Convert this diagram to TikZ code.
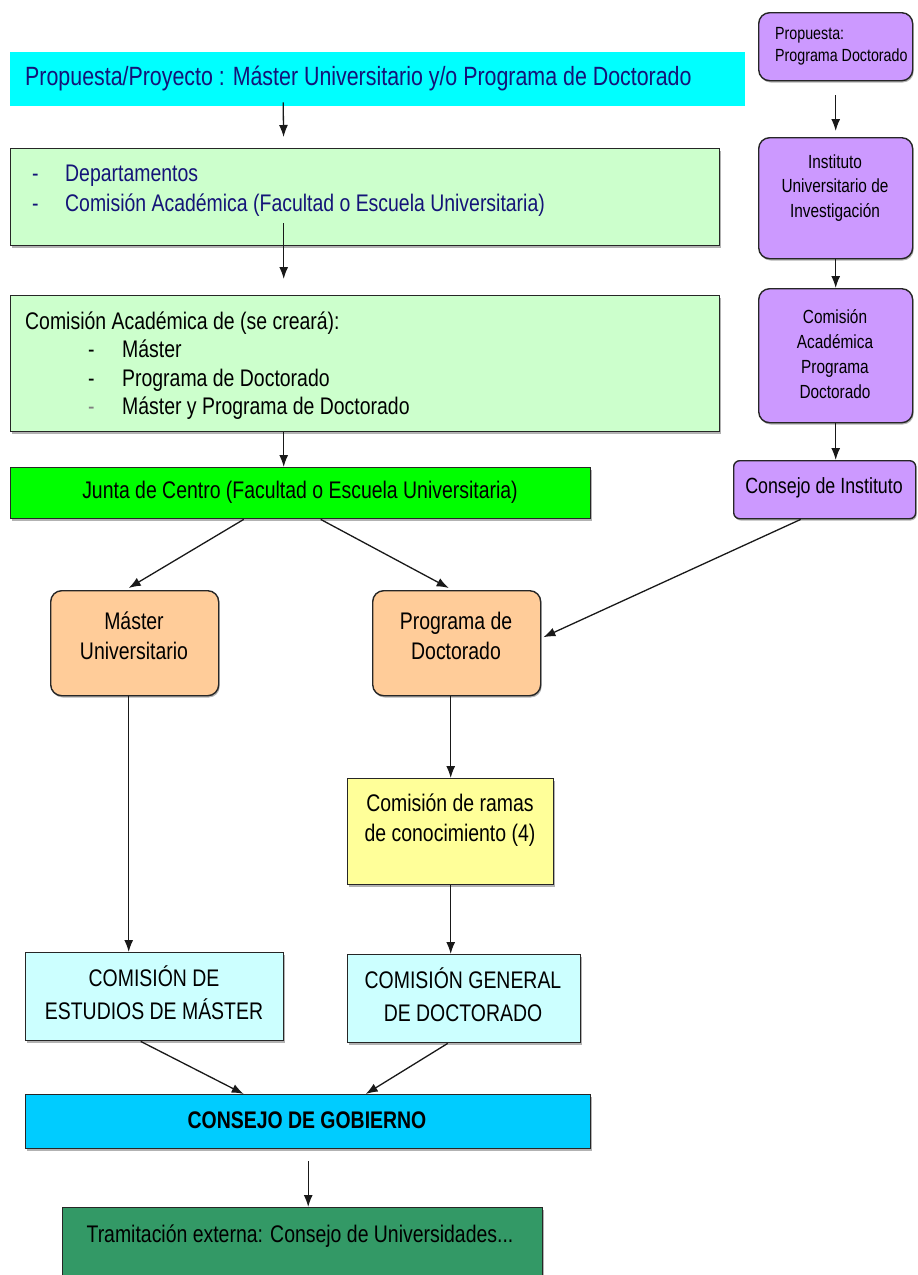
\documentclass[tikz,border=0pt]{standalone}
\usepackage{fontspec}
\setmainfont{Liberation Sans}[FakeStretch=0.81]
\usetikzlibrary{arrows.meta,shadows}
\definecolor{cCyan}{HTML}{00FFFF}
\definecolor{cLgreen}{HTML}{CCFFCC}
\definecolor{cGreen}{HTML}{00FF00}
\definecolor{cPurple}{HTML}{CC99FF}
\definecolor{cOrange}{HTML}{FFCC99}
\definecolor{cYellow}{HTML}{FFFF99}
\definecolor{cLcyan}{HTML}{CCFFFF}
\definecolor{cBlue}{HTML}{00CCFF}
\definecolor{cDgreen}{HTML}{339966}
\definecolor{cNavy}{HTML}{141478}
\newcommand\fA{\fontsize{24}{30}\selectfont}
\newcommand\fB{\fontsize{24}{28.5}\selectfont}
\newcommand\fC{\fontsize{24}{33}\selectfont}
\begin{document}
\begin{tikzpicture}[x=1pt,y=-1pt,
  box/.style={rectangle,draw=black!85,line width=1.4pt,anchor=north west,inner sep=0pt,
    drop shadow={shadow xshift=1pt,shadow yshift=-1.8pt,fill=black!60}},
  rbox/.style={box,rounded corners=11pt},
  txt/.style={inner sep=0pt,font=\fA,align=center},
  arr/.style={line width=1.3pt,draw=black!90,-{Latex[length=12pt,width=9pt]}}]
\useasboundingbox[fill=white] (0,0) rectangle (918,1275);

% left column
\node[anchor=north west,fill=cCyan,minimum width=735pt,minimum height=54pt,inner sep=0pt] (cyan) at (10,52) {};
\node[anchor=west,inner sep=0pt,text=cNavy,font=\fontsize{26.4}{30}\selectfont] (cyanT) at (25,79) {Propuesta/Proyecto : Máster Universitario y/o Programa de Doctorado};

\node[box,fill=cLgreen,minimum width=709pt,minimum height=97pt] (g1) at (10,148) {};
\node[anchor=north west,inner sep=0pt,text=cNavy,font=\fA] (g1T) at (32,160) {\begin{tabular}{@{}l@{}}\makebox[33pt][l]{-}Departamentos\\ \makebox[33pt][l]{-}Comisión Académica (Facultad o Escuela Universitaria)\end{tabular}};

\node[box,fill=cLgreen,minimum width=709pt,minimum height=136pt] (b3) at (10,295) {};
\node[anchor=north west,inner sep=0pt,font=\fB] (b3T) at (25,309) {\begin{tabular}{@{}l@{}}Comisión Académica de (se creará):\\ \hspace*{63pt}\makebox[34pt][l]{-}Máster\\ \hspace*{63pt}\makebox[34pt][l]{-}Programa de Doctorado\\ \hspace*{63pt}\makebox[34pt][l]{\color{black!50}-}Máster y Programa de Doctorado\end{tabular}};

\node[box,fill=cGreen,minimum width=580pt,minimum height=51pt] (junta) at (10,467) {};
\node[txt] (juntaT) at (300,492) {Junta de Centro (Facultad o Escuela Universitaria)};

% right column
\node[rbox,fill=cPurple,minimum width=154pt,minimum height=68pt] (p1) at (758,12) {};
\node[anchor=north west,inner sep=0pt,font=\fontsize{17.6}{22}\selectfont] (p1T) at (775,24) {\begin{tabular}{@{}l@{}}Propuesta:\\ Programa Doctorado\end{tabular}};

\node[rbox,fill=cPurple,minimum width=154pt,minimum height=121pt] (p2) at (758,137) {};
\node[txt,font=\fontsize{19}{24.5}\selectfont] (p2T) at (835,188) {Instituto\\Universitario de\\Investigación};

\node[rbox,fill=cPurple,minimum width=154pt,minimum height=134pt] (p3) at (758,288) {};
\node[txt,font=\fontsize{19}{25}\selectfont] (p3T) at (835,354) {Comisión\\Académica\\Programa\\Doctorado};

\node[box,rounded corners=6pt,fill=cPurple,minimum width=182pt,minimum height=58pt] (ci) at (733,460) {};
\node[txt,font=\fontsize{22}{26}\selectfont] (ciT) at (824,488) {Consejo de Instituto};

% middle
\node[rbox,fill=cOrange,minimum width=168pt,minimum height=105pt] (m) at (50,590) {};
\node[txt] (mT) at (134,636) {Máster\\Universitario};

\node[rbox,fill=cOrange,minimum width=168pt,minimum height=105pt] (pd) at (372,590) {};
\node[txt] (pdT) at (456,636) {Programa de\\Doctorado};

\node[box,fill=cYellow,minimum width=206pt,minimum height=106pt] (ra) at (347,778) {};
\node[txt] (raT) at (450,820) {Comisión de ramas\\de conocimiento (4)};

\node[box,fill=cLcyan,minimum width=258pt,minimum height=88pt] (ce) at (25,952) {};
\node[txt,font=\fC] (ceT) at (154,993) {COMISIÓN DE\\ESTUDIOS DE MÁSTER};

\node[box,fill=cLcyan,minimum width=233pt,minimum height=88pt] (cg) at (347,954) {};
\node[txt,font=\fC] (cgT) at (463,995) {COMISIÓN GENERAL\\DE DOCTORADO};

\node[box,fill=cBlue,minimum width=565pt,minimum height=54pt] (gob) at (25,1094) {};
\node[txt,font=\fA\bfseries] (gobT) at (307,1120) {CONSEJO DE GOBIERNO};

\node[box,fill=cDgreen,minimum width=480pt,minimum height=90pt] (tr) at (62,1207) {};
\node[txt] (trT) at (300,1236) {Tramitación externa: Consejo de Universidades...};

% connectors
\draw[arr,shorten >=11pt] ([xshift=-94.5pt,yshift=4pt]cyan.south) -- ([xshift=-81.5pt]g1.north);
\draw[arr,shorten >=16pt] ([xshift=-81.5pt,yshift=23pt]g1.south) -- ([xshift=-81.5pt]b3.north);
\draw[arr] ([xshift=-81.5pt]b3.south) -- ([xshift=-17pt]junta.north);
\draw[arr,shorten <=14pt,shorten >=6pt] (p1.south) -- (p2.north);
\draw[arr] (p2.south) -- (p3.north);
\draw[arr] (p3.south) -- (p3.south |- ci.north);
\draw[arr] ([xshift=-57pt]junta.south) -- ([xshift=-6pt,yshift=2pt]m.north);
\draw[arr] ([xshift=20pt]junta.south) -- ([xshift=-8pt,yshift=2pt]pd.north);
\draw[arr] ([xshift=-24pt]ci.south) -- ([xshift=2pt,yshift=6pt]pd.east);
\draw[arr] ([xshift=-6pt]m.south) -- ([xshift=-26pt]ce.north);
\draw[arr] ([xshift=-6pt]pd.south) -- (ra.north);
\draw[arr] (ra.south) -- ([xshift=-13.5pt]cg.north);
\draw[arr] ([xshift=-14pt]ce.south) -- ([xshift=-64.5pt]gob.north);
\draw[arr] ([xshift=-16.5pt]cg.south) -- ([xshift=57.5pt]gob.north);
\draw[arr,shorten <=12pt] (gob.south) -- (gob.south |- tr.north);
\end{tikzpicture}
\end{document}
